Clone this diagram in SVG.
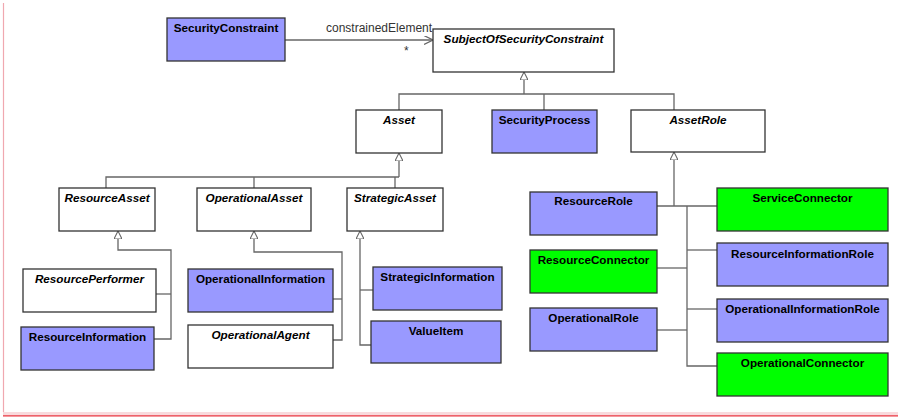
<svg xmlns="http://www.w3.org/2000/svg" width="898" height="417" viewBox="0 0 898 417">
<style>
.n rect{stroke:#333;stroke-width:1.3}
.w{fill:#fff}
.b{fill:#9999ff}
.g{fill:#00ff00}
.n text{font-family:"Liberation Sans",Arial,sans-serif;font-size:11.7px;font-weight:bold;fill:#000;text-anchor:middle}
.n text.i{font-style:italic}
.c path{fill:none;stroke:#666;stroke-width:1.3}
.lbl{font-family:"Liberation Sans",Arial,sans-serif;font-size:12px;fill:#333}
</style>
<defs>
<marker id="gen" viewBox="0 0 10 10" refX="10" refY="5" markerWidth="8" markerHeight="8" markerUnits="userSpaceOnUse" orient="auto-start-reverse">
<path d="M0,0 L10,5 L0,10 z" fill="#fff" stroke="#666" stroke-width="1.3"/>
</marker>
<marker id="open" viewBox="0 0 10 10" refX="10" refY="5" markerWidth="9" markerHeight="9" markerUnits="userSpaceOnUse" orient="auto">
<path d="M0,0 L10,5 L0,10" fill="none" stroke="#666" stroke-width="1.3"/>
</marker>
</defs>
<rect width="898" height="417" fill="#fff"/>
<g id="frame">
<path d="M3.5,3 V412" stroke="#f0a8b0" stroke-width="1.2" fill="none"/>
<rect x="3" y="412" width="895" height="3.3" fill="#f9dadd"/>
<path d="M3,415.8 H898" stroke="#e8323c" stroke-width="1.2"/>
</g>
<g class="c" id="connectors">
<path d="M285,40 H433" marker-end="url(#open)"/>
<path d="M524,72 V94" marker-start="url(#gen)"/>
<path d="M399,110 V94 H674 V110"/>
<path d="M544,94 V110"/>
<path d="M399,153 V177" marker-start="url(#gen)"/>
<path d="M106,188 V177 H399"/>
<path d="M254,177 V188"/>
<path d="M395,177 V188"/>
<path d="M118,231 V250 H171 V339 H154" marker-start="url(#gen)"/>
<path d="M156,294 H171"/>
<path d="M254,231 V252 H342 V340 H333" marker-start="url(#gen)"/>
<path d="M333,299 H342"/>
<path d="M360,231 V345 H371" marker-start="url(#gen)"/>
<path d="M360,290 H373"/>
<path d="M674,152 V206" marker-start="url(#gen)"/>
<path d="M657,206 H717"/>
<path d="M687,206 V366 H717"/>
<path d="M687,250 H717"/>
<path d="M657,268 H687"/>
<path d="M687,309 H717"/>
<path d="M657,330 H687"/>
<text class="lbl" x="326" y="32" style="stroke:none">constrainedElement</text>
<text class="lbl" x="404" y="55" style="stroke:none">*</text>
</g>
<g class="n" id="SecurityConstraint"><rect class="b" x="167" y="18" width="118" height="43"/><text x="226" y="32">SecurityConstraint</text></g>
<g class="n" id="SubjectOfSecurityConstraint"><rect class="w" x="433" y="29" width="181" height="43"/><text class="i" x="523.5" y="43">SubjectOfSecurityConstraint</text></g>
<g class="n" id="Asset"><rect class="w" x="356" y="110" width="86" height="43"/><text class="i" x="399" y="124">Asset</text></g>
<g class="n" id="SecurityProcess"><rect class="b" x="492" y="110" width="105" height="43"/><text x="544.5" y="124">SecurityProcess</text></g>
<g class="n" id="AssetRole"><rect class="w" x="631" y="110" width="134" height="42"/><text class="i" x="698" y="124">AssetRole</text></g>
<g class="n" id="ResourceAsset"><rect class="w" x="59" y="188" width="96" height="43"/><text class="i" x="107" y="202">ResourceAsset</text></g>
<g class="n" id="OperationalAsset"><rect class="w" x="197" y="188" width="114" height="43"/><text class="i" x="254" y="202">OperationalAsset</text></g>
<g class="n" id="StrategicAsset"><rect class="w" x="347" y="188" width="96" height="43"/><text class="i" x="395" y="202">StrategicAsset</text></g>
<g class="n" id="ResourcePerformer"><rect class="w" x="23" y="269" width="133" height="43"/><text class="i" x="89.5" y="283">ResourcePerformer</text></g>
<g class="n" id="ResourceInformation"><rect class="b" x="21" y="327" width="133" height="43"/><text x="87.5" y="341">ResourceInformation</text></g>
<g class="n" id="OperationalInformation"><rect class="b" x="188" y="269" width="145" height="43"/><text x="260.5" y="283">OperationalInformation</text></g>
<g class="n" id="OperationalAgent"><rect class="w" x="188" y="325" width="145" height="43"/><text class="i" x="260.5" y="339">OperationalAgent</text></g>
<g class="n" id="StrategicInformation"><rect class="b" x="373" y="267" width="129" height="43"/><text x="437.5" y="281">StrategicInformation</text></g>
<g class="n" id="ValueItem"><rect class="b" x="371" y="321" width="130" height="42"/><text x="436" y="335">ValueItem</text></g>
<g class="n" id="ResourceRole"><rect class="b" x="530" y="192" width="127" height="43"/><text x="593.5" y="205">ResourceRole</text></g>
<g class="n" id="ServiceConnector"><rect class="g" x="717" y="188" width="171" height="43"/><text x="802.5" y="202">ServiceConnector</text></g>
<g class="n" id="ResourceInformationRole"><rect class="b" x="717" y="243" width="171" height="43"/><text x="802.5" y="258">ResourceInformationRole</text></g>
<g class="n" id="ResourceConnector"><rect class="g" x="530" y="250" width="127" height="43"/><text x="593.5" y="264">ResourceConnector</text></g>
<g class="n" id="OperationalRole"><rect class="b" x="530" y="308" width="127" height="43"/><text x="593.5" y="322">OperationalRole</text></g>
<g class="n" id="OperationalInformationRole"><rect class="b" x="717" y="299" width="171" height="43"/><text x="802.5" y="313">OperationalInformationRole</text></g>
<g class="n" id="OperationalConnector"><rect class="g" x="717" y="353" width="171" height="43"/><text x="802.5" y="367">OperationalConnector</text></g>
</svg>
